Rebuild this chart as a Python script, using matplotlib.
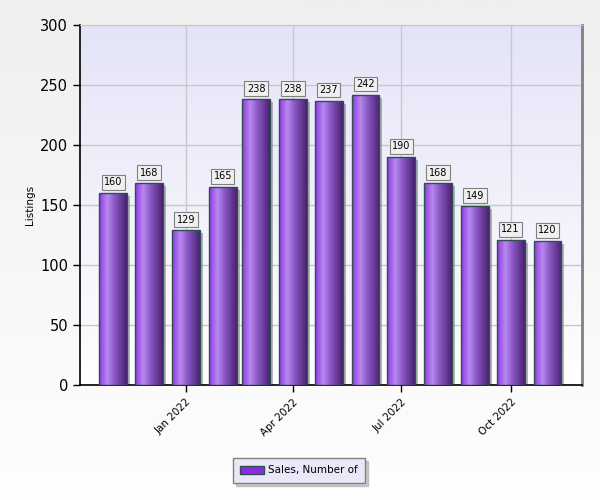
import matplotlib
matplotlib.use("Agg")
import matplotlib.pyplot as plt
import matplotlib.dates as mdates
import matplotlib.transforms as mtransforms
from matplotlib.colors import LinearSegmentedColormap
from matplotlib.patches import Patch
import numpy as np
import datetime as dt

months = ["2021-11", "2021-12", "2022-01", "2022-02", "2022-03", "2022-04", "2022-05",
          "2022-06", "2022-07", "2022-08", "2022-09", "2022-10", "2022-11"]
sales = [160, 168, 129, 165, 238, 238, 237, 242, 190, 168, 149, 121, 120]
tick_months = ["2022-01", "2022-04", "2022-07", "2022-10"]
tick_labels = ["Jan 2022", "Apr 2022", "Jul 2022", "Oct 2022"]
series_name = "Sales, Number of"

def to_date(s):
    y, m = s.split("-")
    return dt.datetime(int(y), int(m), 1)

dates = [to_date(m) for m in months]
xnum = mdates.date2num(dates)
ticks = mdates.date2num([to_date(m) for m in tick_months])

fig = plt.figure(figsize=(6, 5), dpi=100)

# figure background gradient
bg = fig.add_axes([0, 0, 1, 1], zorder=-10)
bgcm = LinearSegmentedColormap.from_list("bg", ["#fefefe", "#efefef"])
bg.imshow(np.linspace(0, 1, 256).reshape(-1, 1)[::-1], cmap=bgcm, aspect="auto",
          extent=[0, 1, 0, 1])
bg.axis("off")

ax = fig.add_axes([80 / 600, 115 / 500, 502 / 600, 360 / 500])
ax.set_facecolor("none")

# plot area gradient
pcm = LinearSegmentedColormap.from_list("pa", ["#ffffff", "#e4e4f8"])
ax.imshow(np.linspace(0, 1, 256).reshape(-1, 1)[::-1], cmap=pcm, aspect="auto",
          extent=[0, 1, 0, 1], transform=ax.transAxes, zorder=0)

width = 23.5
# shadow
shadow_tr = ax.transData + mtransforms.ScaledTranslation(3 / 100, -3 / 100, fig.dpi_scale_trans)
shadows = ax.bar(xnum, sales, width=width, color="#6f8080", alpha=0.55, zorder=2,
                 linewidth=0)
for p in shadows:
    p.set_transform(shadow_tr)

bars = ax.bar(xnum, sales, width=width, facecolor="none", edgecolor="#2f4f4f",
              linewidth=1.0, zorder=4)

barcm = LinearSegmentedColormap.from_list(
    "bar", [(0, "#9038e0"), (0.3, "#b888f0"), (0.55, "#8c5ac8"), (1, "#4a2070")])
grad = np.linspace(0, 1, 128).reshape(1, -1)
for p in bars:
    x0 = p.get_x()
    x1 = x0 + p.get_width()
    h = p.get_height()
    im = ax.imshow(grad, cmap=barcm, aspect="auto", extent=[x0, x1, 0, h],
                   zorder=3, interpolation="bilinear")
    im.set_clip_path(p)

for x, v in zip(xnum, sales):
    ax.annotate(str(v), (x, v), xytext=(0, 4), textcoords="offset points",
                ha="center", va="bottom", fontsize=7, zorder=6,
                bbox=dict(boxstyle="square,pad=0.25", fc="#f0f0f0", ec="#808080", lw=0.8))

ax.set_xlim(mdates.date2num(dt.datetime(2021, 10, 4)), mdates.date2num(dt.datetime(2022, 11, 30)))
ax.set_ylim(0, 300)
ax.set_yticks([0, 50, 100, 150, 200, 250, 300])
ax.set_xticks(ticks)
ax.set_xticklabels(tick_labels, rotation=45, ha="right", rotation_mode="anchor", fontsize=7.5)
ax.tick_params(axis="y", labelsize=10.5, length=5, width=1)
ax.tick_params(axis="x", length=5, width=1)
ax.set_ylabel("Listings", fontsize=7.5, labelpad=4)
ax.grid(True, color="#c8c8cc", linewidth=1, zorder=1)
ax.set_axisbelow(True)

ax.spines["top"].set_color("#c8c8cc")
ax.spines["right"].set_color("#808080")
ax.spines["right"].set_linewidth(2)
ax.spines["left"].set_color("black")
ax.spines["bottom"].set_color("black")
ax.spines["left"].set_linewidth(1.2)
ax.spines["bottom"].set_linewidth(1.2)

# legend
handle = Patch(facecolor="#8a2be2", edgecolor="#2f4f4f")
leg = fig.legend([handle], [series_name], loc="center", bbox_to_anchor=(299 / 600, 1 - 470.5 / 500),
                 fontsize=7.5, frameon=True, fancybox=False,
                 shadow={"ox": 2, "oy": -2, "color": "#9a9a9a"},
                 handlelength=2.3, handleheight=0.9, handletextpad=0.4,
                 borderpad=0.7, borderaxespad=0)
leg.get_frame().set_facecolor("#e8e8f8")
leg.get_frame().set_edgecolor("#808080")

fig.savefig("out.png", dpi=100)
